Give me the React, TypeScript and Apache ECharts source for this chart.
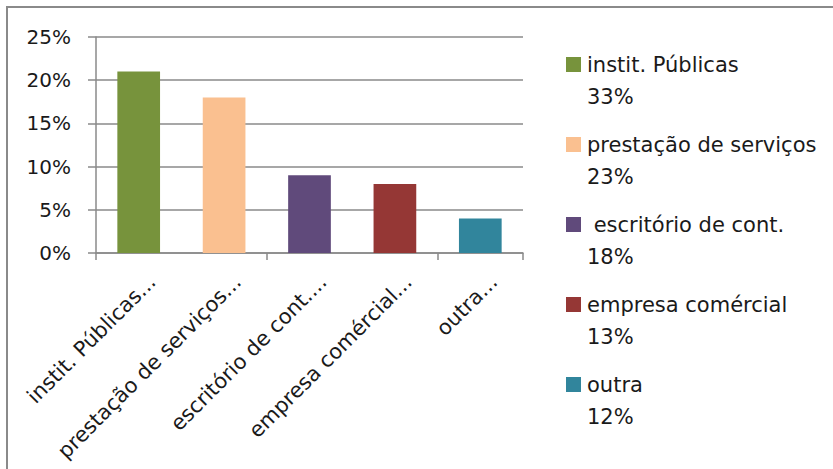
import React, { useEffect, useRef } from "react";
import * as echarts from "echarts";

const categories = ["instit. Públicas", "prestação de serviços", "escritório de cont.", "empresa comércial", "outra"];
const values = [21, 18, 9, 8, 4];
const shares = ["33%", "23%", "18%", "13%", "12%"];
const colors = ["#77933C", "#FAC090", "#604A7B", "#953735", "#31859C"];
const yTicks = { min: 0, max: 25, interval: 5 };

const FONT = "DejaVu Sans";

export default function App() {
  const ref = useRef<HTMLDivElement>(null);
  useEffect(() => {
    document.body.style.margin = "0";
    const chart = echarts.init(ref.current!, null, { renderer: "svg" });
    const legendItems = categories.map((name, i) => ({
      type: "group",
      x: 566,
      y: 57 + 80 * i,
      children: [
        { type: "rect", shape: { x: 0, y: 0, width: 15, height: 15 }, style: { fill: colors[i] } },
        {
          type: "text",
          x: 21,
          y: -8,
          style: {
            text: (i === 2 ? " " : "") + name + "\n" + shares[i],
            fontFamily: FONT,
            fontSize: 21,
            lineHeight: 32,
            fill: "#1a1a1a",
            verticalAlign: "top",
            align: "left",
          },
        },
      ],
    }));
    chart.setOption({
      animation: false,
      backgroundColor: "#ffffff",
      grid: [
        { left: 96, right: 310, top: 37, bottom: 216, containLabel: false },
        { left: 102, right: 304, top: 37, bottom: 216, containLabel: false },
      ],
      xAxis: [
        {
          type: "category",
          gridIndex: 0,
          data: categories.map((c) => c + "..."),
          axisLine: { lineStyle: { color: "#8a8a8a", width: 1.5 } },
          axisTick: { show: true, length: 7, lineStyle: { color: "#8a8a8a", width: 1.5 } },
          axisLabel: { show: false },
        },
        {
          type: "category",
          gridIndex: 1,
          data: categories.map((c) => c + "..."),
          axisLine: { show: false },
          axisTick: { show: false },
          axisLabel: {
            rotate: 45,
            align: "right",
            verticalAlign: "top",
            margin: 18,
            interval: 0,
            fontFamily: FONT,
            fontSize: 21,
            color: "#1a1a1a",
          },
        },
      ],
      yAxis: [
        {
          type: "value",
          gridIndex: 0,
          min: yTicks.min,
          max: yTicks.max,
          interval: yTicks.interval,
          axisLine: { show: true, lineStyle: { color: "#8a8a8a", width: 1.5 } },
          axisTick: { show: true, length: 8, lineStyle: { color: "#8a8a8a", width: 1.5 } },
          splitLine: { lineStyle: { color: "#8a8a8a", width: 1.5 } },
          axisLabel: {
            formatter: "{value}%",
            margin: 25,
            fontFamily: FONT,
            fontSize: 20,
            color: "#1a1a1a",
          },
        },
        {
          type: "value",
          gridIndex: 1,
          min: yTicks.min,
          max: yTicks.max,
          interval: yTicks.interval,
          show: false,
        },
      ],
      series: [
        {
          type: "bar",
          xAxisIndex: 0,
          yAxisIndex: 0,
          barWidth: "50%",
          data: values.map((v, i) => ({ value: v, itemStyle: { color: colors[i] } })),
        },
      ],
      graphic: [
        { type: "line", shape: { x1: 6, y1: 7, x2: 833, y2: 7 }, style: { stroke: "#8a8a8a", lineWidth: 2 } },
        { type: "line", shape: { x1: 7, y1: 6, x2: 7, y2: 469 }, style: { stroke: "#8a8a8a", lineWidth: 2 } },
        ...legendItems,
      ],
    });
    return () => chart.dispose();
  }, []);
  return <div ref={ref} style={{ width: 833, height: 469, position: "fixed", left: 0, top: 0 }} />;
}
